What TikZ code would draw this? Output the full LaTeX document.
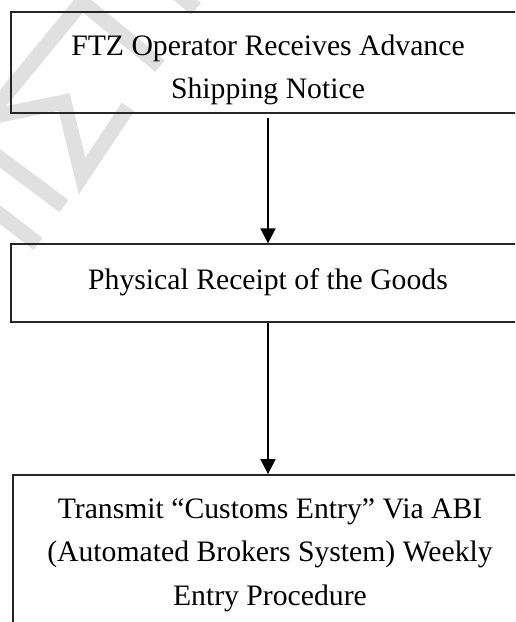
\documentclass[tikz,border=0pt]{standalone}
\usepackage{fontspec}
\setmainfont{Liberation Serif}
\usetikzlibrary{arrows.meta}

\begin{document}
\begin{tikzpicture}[x=1pt,y=-1pt,
    stepbox/.style={draw=black!85, line width=1.8pt, rectangle, inner sep=0pt, fill=none},
    steptext/.style={align=center, inner sep=0pt,
        font=\fontsize{29.7}{43.4}\selectfont, text=black},
    flow/.style={draw=black, line width=1.6pt,
        -{Triangle[width=15pt,length=15pt]}},
    wm/.style={draw={rgb,255:red,224;green,224;blue,224},
        line width=15pt, line cap=butt, line join=miter}]
  \useasboundingbox (0,0) rectangle (515,622);
  \clip (0,0) rectangle (515,622);
  \fill[white] (0,0) rectangle (515,622);

  % faint background lettering
  \draw[wm] (160,66) -- (82,2) -- (-10,114);
  \draw[wm] (176,-8) -- (196,9);
  \draw[wm] (-10,117) -- (64,102) -- (82,176) -- (128,107);
  \draw[wm] (-10,151) -- (64,206);
  \draw[wm] (-10,207) -- (38,244);

  % process boxes (they run past the right and bottom edges)
  \node[stepbox, minimum width=514.6pt, minimum height=101.6pt] (b1) at (268,62.5) {};
  \node[stepbox, minimum width=514.6pt, minimum height=78pt] (b2) at (268,283.3) {};
  \node[stepbox, minimum width=514.6pt, minimum height=170pt] (b3) at (270,560) {};

  % box labels
  \node[steptext] (t1) at (268,69.9) {FTZ Operator Receives Advance\\Shipping Notice};
  \node[steptext] (t2) at (268,282.6) {Physical Receipt of the Goods};
  \node[steptext] (t3) at (270,555) {Transmit “Customs Entry” Via ABI\\(Automated Brokers System) Weekly\\Entry Procedure};

  % connectors
  \draw[flow, shorten <=3.4pt] (b1.south) -- (b2.north);
  \draw[flow] (b2.south) -- (b2.south |- b3.north);
\end{tikzpicture}
\end{document}
